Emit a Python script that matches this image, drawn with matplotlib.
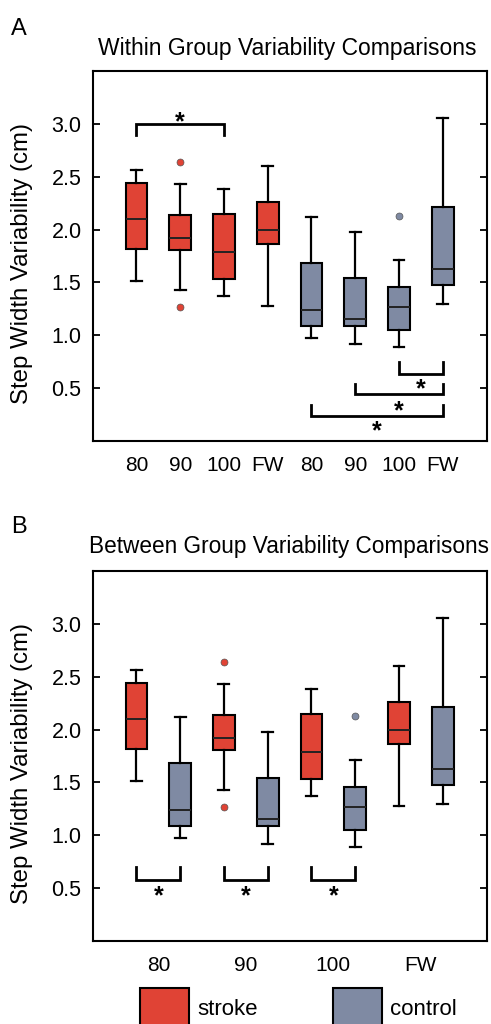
import matplotlib
matplotlib.use("Agg")
import matplotlib.pyplot as plt
from matplotlib.patches import Rectangle

plt.rcParams['font.family'] = ['Liberation Sans', 'DejaVu Sans']

# Data (cm)
speeds = ["80", "90", "100", "FW"]

stroke_whislo = [1.51, 1.43, 1.37, 1.28]
stroke_q1 = [1.82, 1.81, 1.53, 1.86]
stroke_med = [2.10, 1.92, 1.79, 2.00]
stroke_q3 = [2.44, 2.14, 2.15, 2.26]
stroke_whishi = [2.56, 2.43, 2.38, 2.60]
stroke_fliers = [[], [2.64, 1.27], [], []]

control_whislo = [0.97, 0.92, 0.89, 1.30]
control_q1 = [1.09, 1.085, 1.05, 1.48]
control_med = [1.24, 1.15, 1.27, 1.63]
control_q3 = [1.68, 1.54, 1.46, 2.21]
control_whishi = [2.12, 1.98, 1.71, 3.06]
control_fliers = [[], [], [2.13], []]

# significance brackets: (x0, x1, bar_y, tip_y, star_x, star_y)
within_brackets = [(1, 3, 3.00, 2.89, 2.0, 3.08),
                   (7, 8, 0.635, 0.745, 7.5, 0.55),
                   (6, 8, 0.44, 0.54, 7.0, 0.35),
                   (5, 8, 0.24, 0.34, 6.5, 0.155)]
between_brackets = [(1, 2, 0.58, 0.70, 1.5, 0.485),
                    (3, 4, 0.58, 0.70, 3.5, 0.485),
                    (5, 6, 0.58, 0.70, 5.5, 0.485)]

STROKE_COLOR = "#E04335"
CONTROL_COLOR = "#7F8AA3"
FS = 15


def make_stats(whislo, q1, med, q3, whishi, fliers):
    return [dict(whislo=whislo[i], q1=q1[i], med=med[i], q3=q3[i],
                 whishi=whishi[i], fliers=fliers[i]) for i in range(len(med))]


def draw_boxes(ax, stats, positions, color):
    ax.bxp(stats, positions=positions, widths=0.5, patch_artist=True,
           showfliers=True,
           boxprops=dict(facecolor=color, edgecolor="black", linewidth=1.5),
           medianprops=dict(color="#222222", linewidth=1.4),
           whiskerprops=dict(color="black", linewidth=1.6),
           capprops=dict(color="black", linewidth=1.6),
           flierprops=dict(marker="o", markersize=5, markerfacecolor=color,
                           markeredgecolor="#555555", markeredgewidth=0.5))


def draw_brackets(ax, brackets):
    for x0, x1, y, tip, sx, sy in brackets:
        ax.plot([x0, x0, x1, x1], [tip, y, y, tip], color="black",
                linewidth=2.0, solid_joinstyle="miter")
        ax.annotate("*", xy=(sx, sy), xytext=(0, -5), textcoords="offset points",
                    ha="center", va="center", fontsize=18, fontweight="bold")


def style_axes(ax):
    ax.set_xlim(0, 9)
    ax.set_ylim(0, 3.5)
    ax.set_yticks([0.5, 1.0, 1.5, 2.0, 2.5, 3.0])
    ax.set_yticklabels(["0.5", "1.0", "1.5", "2.0", "2.5", "3.0"])
    ax.tick_params(axis="y", direction="in", left=True, right=True,
                   length=5, width=1.3, labelsize=FS + 0.5, pad=8)
    ax.tick_params(axis="x", length=0, labelsize=FS, pad=11)
    for sp in ax.spines.values():
        sp.set_linewidth(1.5)


fig = plt.figure(figsize=(4.91, 10.24), dpi=100)
W, H = 491.0, 1024.0


def px_axes(left, top, right, bottom):
    return fig.add_axes([left / W, 1 - bottom / H, (right - left) / W, (bottom - top) / H])


stroke_stats = make_stats(stroke_whislo, stroke_q1, stroke_med, stroke_q3,
                          stroke_whishi, stroke_fliers)
control_stats = make_stats(control_whislo, control_q1, control_med, control_q3,
                           control_whishi, control_fliers)

# Panel A: within group
axA = px_axes(92.7, 71, 486.5, 441)
draw_boxes(axA, stroke_stats, [1, 2, 3, 4], STROKE_COLOR)
draw_boxes(axA, control_stats, [5, 6, 7, 8], CONTROL_COLOR)
draw_brackets(axA, within_brackets)
style_axes(axA)
axA.set_xticks(range(1, 9))
axA.set_xticklabels(speeds + speeds)

# Panel B: between group
axB = px_axes(92.7, 571, 486.5, 941)
draw_boxes(axB, stroke_stats, [1, 3, 5, 7], STROKE_COLOR)
draw_boxes(axB, control_stats, [2, 4, 6, 8], CONTROL_COLOR)
draw_brackets(axB, between_brackets)
style_axes(axB)
axB.set_xticks([1.5, 3.5, 5.5, 7.5])
axB.set_xticklabels(speeds)

# titles, panel letters, y labels
fig.text(287.5 / W, 1 - 55 / H, "Within Group Variability Comparisons",
         ha="center", va="baseline", fontsize=16.5)
fig.text(289 / W, 1 - 553 / H, "Between Group Variability Comparisons",
         ha="center", va="baseline", fontsize=16.3)
fig.text(11 / W, 1 - 35 / H, "A", ha="left", va="baseline", fontsize=17)
fig.text(11 / W, 1 - 533 / H, "B", ha="left", va="baseline", fontsize=17)
for yc in (263, 763):
    fig.text(22 / W, 1 - yc / H, "Step Width Variability (cm)", rotation=90,
             ha="center", va="center", fontsize=17.3)

# legend squares
for x0, color, label in ((140, STROKE_COLOR, "stroke"), (333, CONTROL_COLOR, "control")):
    fig.patches.append(Rectangle((x0 / W, 1 - 1037 / H), 49 / W, 49 / H,
                                 transform=fig.transFigure, facecolor=color,
                                 edgecolor="black", linewidth=1.5))
    fig.text((x0 + 57) / W, 1 - 1015 / H, label, ha="left", va="baseline", fontsize=16)

fig.savefig("out.png", dpi=100)
